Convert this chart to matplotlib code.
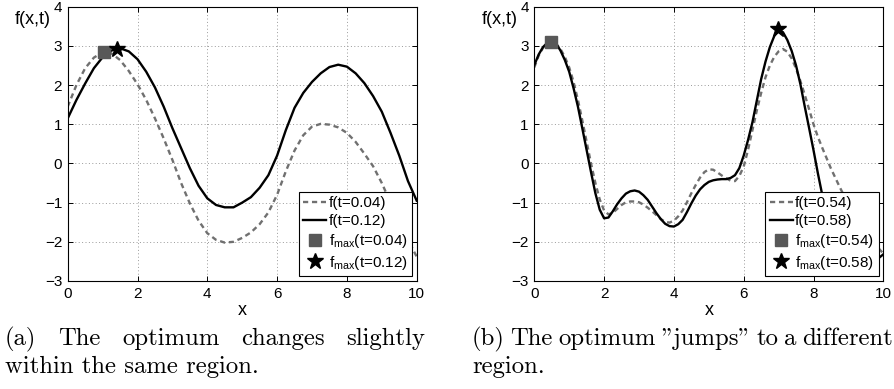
import matplotlib
matplotlib.use("Agg")
import matplotlib.pyplot as plt
import numpy as np

plt.rcParams["font.family"] = ["Liberation Sans", "DejaVu Sans"]
plt.rcParams["mathtext.default"] = "regular"

# (a) slight change of the optimum, sampled every 0.25
X_A = [0.0, 0.25, 0.5, 0.75, 1.0, 1.25, 1.5, 1.75, 2.0, 2.25, 2.5, 2.75, 3.0, 3.25,
       3.5, 3.75, 4.0, 4.25, 4.5, 4.75, 5.0, 5.25, 5.5, 5.75, 6.0, 6.25, 6.5, 6.75,
       7.0, 7.25, 7.5, 7.75, 8.0, 8.25, 8.5, 8.75, 9.0, 9.25, 9.5, 9.75, 10.0]
F_A_OLD = [1.45, 2.0, 2.43, 2.7, 2.84, 2.81, 2.64, 2.36, 2.02, 1.62, 1.15, 0.64, 0.09,
           -0.5, -1.02, -1.46, -1.78, -1.95, -2.02, -2.0, -1.9, -1.76, -1.55, -1.25,
           -0.8, -0.2, 0.33, 0.72, 0.94, 1.01, 0.99, 0.92, 0.78, 0.55, 0.25, -0.07,
           -0.5, -1.0, -1.5, -1.95, -2.38]
F_A_NEW = [1.15, 1.62, 2.04, 2.43, 2.71, 2.88, 2.94, 2.86, 2.66, 2.34, 1.94, 1.45, 0.9,
           0.39, -0.12, -0.57, -0.89, -1.06, -1.12, -1.12, -1.0, -0.86, -0.62, -0.3,
           0.2, 0.85, 1.42, 1.8, 2.08, 2.3, 2.46, 2.52, 2.47, 2.3, 2.05, 1.72, 1.32,
           0.78, 0.2, -0.45, -0.95]
MAX_A_OLD = (1.04, 2.84)
MAX_A_NEW = (1.42, 2.93)
T_A = ("0.04", "0.12")

# (b) optimum jumps to another region, finer sampling where the curves bend sharply
X_B = [0.0, 0.125, 0.25, 0.375, 0.5, 0.625, 0.75, 0.875, 1.0, 1.125, 1.25, 1.375,
       1.5, 1.625, 1.75, 1.875, 2.0, 2.125, 2.25, 2.375, 2.5, 2.625, 2.75, 2.875,
       3.0, 3.125, 3.25, 3.375, 3.5, 3.625, 3.75, 3.875, 4.0, 4.125, 4.25, 4.375,
       4.5, 4.625, 4.75, 4.875, 5.0, 5.125, 5.25, 5.375, 5.5, 5.625, 5.75, 5.875,
       6.0, 6.125, 6.25, 6.375, 6.5, 6.625, 6.75, 6.875, 7.0, 7.125, 7.25, 7.375,
       7.5, 7.625, 7.75, 7.875, 8.0, 8.125, 8.25, 8.5, 8.75, 9.0, 9.25, 9.5, 9.75,
       10.0]
F_B_OLD = [2.45, 2.75, 2.95, 3.07, 3.1, 3.05, 2.92, 2.72, 2.45, 2.08, 1.62, 1.1,
           0.55, 0.0, -0.5, -0.92, -1.2, -1.3, -1.26, -1.16, -1.06, -0.99, -0.97, -0.97,
           -0.99, -1.05, -1.13, -1.22, -1.32, -1.42, -1.49, -1.51, -1.46, -1.35, -1.2,
           -0.99, -0.76, -0.55, -0.36, -0.22, -0.15, -0.16, -0.23, -0.31, -0.38, -0.44,
           -0.45, -0.32, -0.08, 0.35, 0.85, 1.35, 1.8, 2.2, 2.5, 2.72, 2.86, 2.92, 2.85,
           2.68, 2.42, 2.1, 1.75, 1.38, 1.0, 0.68, 0.4, -0.13, -0.6, -1.05, -1.45, -1.8,
           -2.05, -2.3]
F_B_NEW = [2.51, 2.78, 2.97, 3.08, 3.12, 3.06, 2.88, 2.64, 2.34, 1.92, 1.45, 0.9,
           0.34, -0.22, -0.76, -1.18, -1.4, -1.38, -1.22, -1.04, -0.89, -0.77, -0.71,
           -0.69, -0.72, -0.81, -0.93, -1.1, -1.27, -1.42, -1.54, -1.6, -1.61, -1.55,
           -1.44, -1.24, -1.02, -0.82, -0.66, -0.55, -0.47, -0.43, -0.41, -0.4, -0.4,
           -0.37, -0.3, -0.12, 0.2, 0.6, 1.05, 1.6, 2.15, 2.6, 2.97, 3.25, 3.4, 3.35,
           3.15, 2.87, 2.5, 2.02, 1.45, 0.9, 0.34, -0.25, -0.8, -1.6, -2.15, -2.45,
           -2.6, -2.62, -2.5, -2.32]
MAX_B_OLD = (0.47, 3.11)
MAX_B_NEW = (6.98, 3.43)
T_B = ("0.54", "0.58")

CAPTION_A = ["(a) The optimum changes slightly", "within the same region."]
CAPTION_B = ['(b) The optimum "jumps" to a different', "region."]

W, H = 894, 389
DASH_COLOR = "#707070"
SQUARE_COLOR = "#585858"


def draw_panel(ax, x, f_old, f_new, max_old, max_new, t_labels):
    ax.plot(x, f_old, color=DASH_COLOR, linestyle=(0, (2.2, 1.6)), linewidth=1.7,
            label=f"f(t={t_labels[0]})")
    ax.plot(x, f_new, color="black", linewidth=1.7, label=f"f(t={t_labels[1]})")
    ax.plot(*max_old, linestyle="none", marker="s", markersize=9, color=SQUARE_COLOR,
            label=f"f$_{{max}}$(t={t_labels[0]})", zorder=5)
    ax.plot(*max_new, linestyle="none", marker="*", markersize=12, color="black",
            label=f"f$_{{max}}$(t={t_labels[1]})", zorder=6)

    ax.set_xlim(0, 10)
    ax.set_ylim(-3, 4)
    ax.set_xticks(np.arange(0, 11, 2))
    ax.set_yticks(np.arange(-3, 5, 1))
    ax.tick_params(direction="in", length=3.5, width=0.7, top=True, right=True,
                   labelsize=11, pad=4)
    ax.grid(True, linestyle=(0, (1, 2.5)), color="#9a9a9a", linewidth=0.7)
    for s in ax.spines.values():
        s.set_linewidth(0.8)
    ax.set_xlabel("x", fontsize=13, labelpad=1)
    ax.text(-0.10, 0.955, "f(x,t)", transform=ax.transAxes, fontsize=13,
            ha="center", va="center")
    leg = ax.legend(loc="lower right", fontsize=11, frameon=True, fancybox=False,
                    framealpha=1, edgecolor="black", borderaxespad=0.3,
                    handlelength=1.5, handletextpad=0.15, labelspacing=0.25,
                    borderpad=0.3)
    leg.get_frame().set_linewidth(0.8)


def justified(fig, renderer, line, x0, x1, y, size):
    # spread the words so the line fills x0..x1 like a justified LaTeX caption
    words = line.split(" ")
    texts = [fig.text(0, 1 - y / H, w, family="cmr10", fontsize=size, va="baseline")
             for w in words]
    widths = [t.get_window_extent(renderer).width for t in texts]
    gap = (x1 - x0 - sum(widths)) / (len(words) - 1)
    pos = x0
    for t, w in zip(texts, widths):
        t.set_x(pos / W)
        pos += w + gap


def plain(fig, line, x0, y, size):
    fig.text(x0 / W, 1 - y / H, line, family="cmr10", fontsize=size, va="baseline")


fig = plt.figure(figsize=(W / 100, H / 100), dpi=100)
ax_a = fig.add_axes([67.7 / W, 1 - 281 / H, 349 / W, 274.3 / H])
ax_b = fig.add_axes([534.3 / W, 1 - 281 / H, 349 / W, 274.3 / H])
draw_panel(ax_a, X_A, F_A_OLD, F_A_NEW, MAX_A_OLD, MAX_A_NEW, T_A)
draw_panel(ax_b, X_B, F_B_OLD, F_B_NEW, MAX_B_OLD, MAX_B_NEW, T_B)

renderer = fig.canvas.get_renderer()
cap_size = 17.8
justified(fig, renderer, CAPTION_A[0], 5, 425, 345, cap_size)
plain(fig, CAPTION_A[1], 5, 373, cap_size)
justified(fig, renderer, CAPTION_B[0], 472, 893, 345, cap_size)
plain(fig, CAPTION_B[1], 472, 373, cap_size)

fig.savefig("out.png", dpi=100)
